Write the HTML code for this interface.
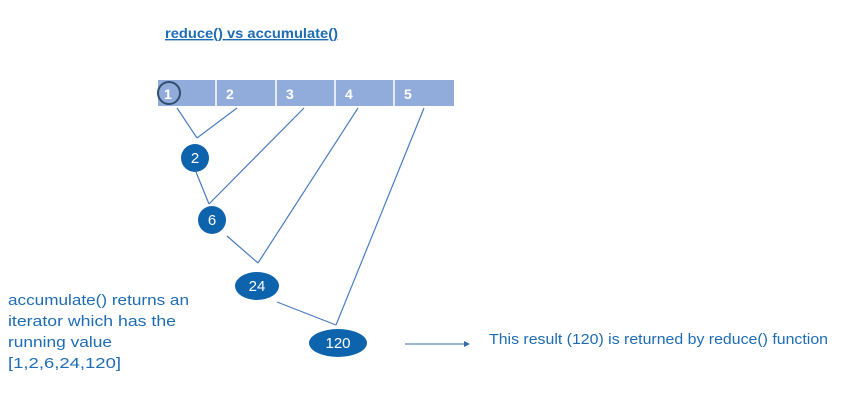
<!DOCTYPE html>
<html><head><meta charset="utf-8"><style>
body{margin:0;background:#fff;width:853px;height:409px;overflow:hidden;font-family:"Liberation Sans",sans-serif}
svg{position:absolute;left:0;top:0}
</style></head><body>
<svg width="853" height="409" id="svg">
<text x="165" y="38" font-size="14" font-weight="bold" fill="#1e6cb4" text-decoration="underline" textLength="173" lengthAdjust="spacingAndGlyphs">reduce() vs accumulate()</text>
<g id="g"></g>
<g fill="#1e6cb4" font-size="15">
<text x="8" y="305" textLength="181" lengthAdjust="spacingAndGlyphs">accumulate() returns an</text>
<text x="8" y="326" textLength="168" lengthAdjust="spacingAndGlyphs">iterator which has the</text>
<text x="8" y="347" textLength="104" lengthAdjust="spacingAndGlyphs">running value</text>
<text x="8" y="368" textLength="113" lengthAdjust="spacingAndGlyphs">[1,2,6,24,120]</text>
</g>
<line x1="405" y1="344" x2="466" y2="344" stroke="#2f6ea8" stroke-width="1"/>
<polygon points="470,344 464,341 464,347" fill="#2f6ea8"/>
<text x="489" y="344" font-size="15" fill="#1e6cb4" textLength="339" lengthAdjust="spacingAndGlyphs">This result (120) is returned by reduce() function</text>
</svg>
<script>
const items=[1,2,3,4,5];
const running=[2,6,24,120];
const NS="http://www.w3.org/2000/svg";
const g=document.getElementById('g');
function mk(t,a){const e=document.createElementNS(NS,t);for(const k in a)e.setAttribute(k,a[k]);g.appendChild(e);return e;}
const cellX=[158,216,276,335,394,454];
const bar=mk('rect',{x:158,y:80,width:296,height:26,fill:'#91acda'});


items.forEach((v,i)=>{
 if(i>0){const d=mk('line',{x1:cellX[i],y1:80,x2:cellX[i],y2:106,stroke:'#fff','stroke-width':1.5});
 
 }
 const t=mk('text',{x:cellX[i]+(i==0?6:10),y:99,'font-size':14,'font-weight':'bold',fill:'#fff'});t.textContent=v;
 
 
});
const c=mk('circle',{cx:169,cy:93,r:11,fill:'none',stroke:'#2f4f6f','stroke-width':2});


const nodes=[[195,158,14,14],[212,220,14,14],[257,286,22,14],[338,343,29,14]];
const srcX=[304,358,424];
const joins=[[197,138],[209,204],[258,263],[336,325]];
const ln=(a,b,c2,d)=>{const l=mk('line',{x1:a,y1:b,x2:c2,y2:d,stroke:'#4a7cc0','stroke-width':1.2});};
ln(177,108,197,138);ln(237,108,197,138);
running.forEach((v,i)=>{
 const [cx,cy,rx,ry]=nodes[i];
 if(i>0){const pr=nodes[i-1];ln(pr[0]+(i==1?1:i==2?15:20),pr[1]+(i==1?14:16),joins[i][0],joins[i][1]);ln(srcX[i-1],108,joins[i][0],joins[i][1]);}
 const e=mk('ellipse',{cx,cy,rx,ry,fill:'#0e63ad'});
 
 
 const t=mk('text',{x:cx,y:cy+5,'font-size':15,fill:'#fff','text-anchor':'middle'});t.textContent=v;
 
 
});
</script>
</body></html>
